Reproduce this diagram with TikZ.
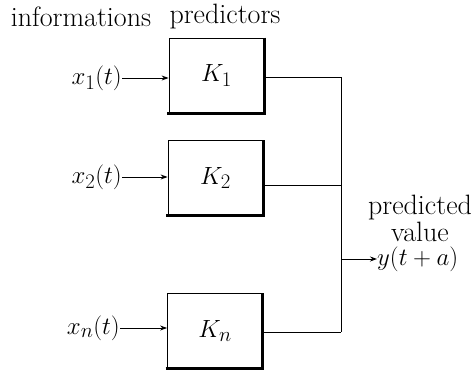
\documentclass[tikz,border=0pt]{standalone}
\usetikzlibrary{arrows.meta,calc}
\begin{document}
\begin{tikzpicture}[x=1pt,y=-1pt,
  txt/.style={inner sep=0pt,font=\fontsize{28}{27}\selectfont},
  mtxt/.style={inner sep=0pt,font=\Huge},
  kbox/.style={draw,line width=0.8pt,minimum width=95pt,minimum height=75pt,inner sep=0pt,font=\Huge},
  heavy/.style={line width=3pt},
  conn/.style={line width=0.9pt},
  arr/.style={conn,-{Stealth[length=7pt,width=5pt]}}]
\useasboundingbox (0,0) rectangle (475,372);
\node[txt] (info) at (81,17) {informations};
\node[txt] (pred) at (225,17) {predictors};
\node[kbox] (K1) at (216.5,75.5) {$K_1$};
\node[kbox] (K2) at (215.5,178) {$K_2$};
\node[kbox] (Kn) at (215,331) {$K_n$};
\foreach \k in {K1,K2,Kn}{
  \draw[heavy] (\k.north east) -- (\k.south east);
  \draw[heavy] ([xshift=-1.5pt]\k.south west) -- ([xshift=1.5pt]\k.south east);
}
\node[mtxt,anchor=east] (x1) at (122,78) {$x_1(t)$};
\node[mtxt,anchor=east] (x2) at (122,177) {$x_2(t)$};
\node[mtxt,anchor=east] (xn) at (120,328) {$x_n(t)$};
\draw[arr] (x1.east) -- (x1.east -| K1.west);
\draw[arr] (x2.east) -- (x2.east -| K2.west);
\draw[arr] (xn.east) -- (xn.east -| Kn.west);
\coordinate (j1) at (341,77);
\coordinate (j2) at (341,185);
\coordinate (jn) at (341,332);
\coordinate (jo) at (341,259);
\draw[conn] (K1.east |- j1) -- (j1);
\draw[conn] (K2.east |- j2) -- (j2);
\draw[conn] (Kn.east |- jn) -- (jn);
\draw[conn] (j1) -- (jn);
\node[txt,align=center] (pv) at (420,218) {predicted\\value};
\node[mtxt,anchor=west] (y) at (377,259) {$y(t+a)$};
\draw[arr] (jo) -- (y.west);
\end{tikzpicture}
\end{document}
